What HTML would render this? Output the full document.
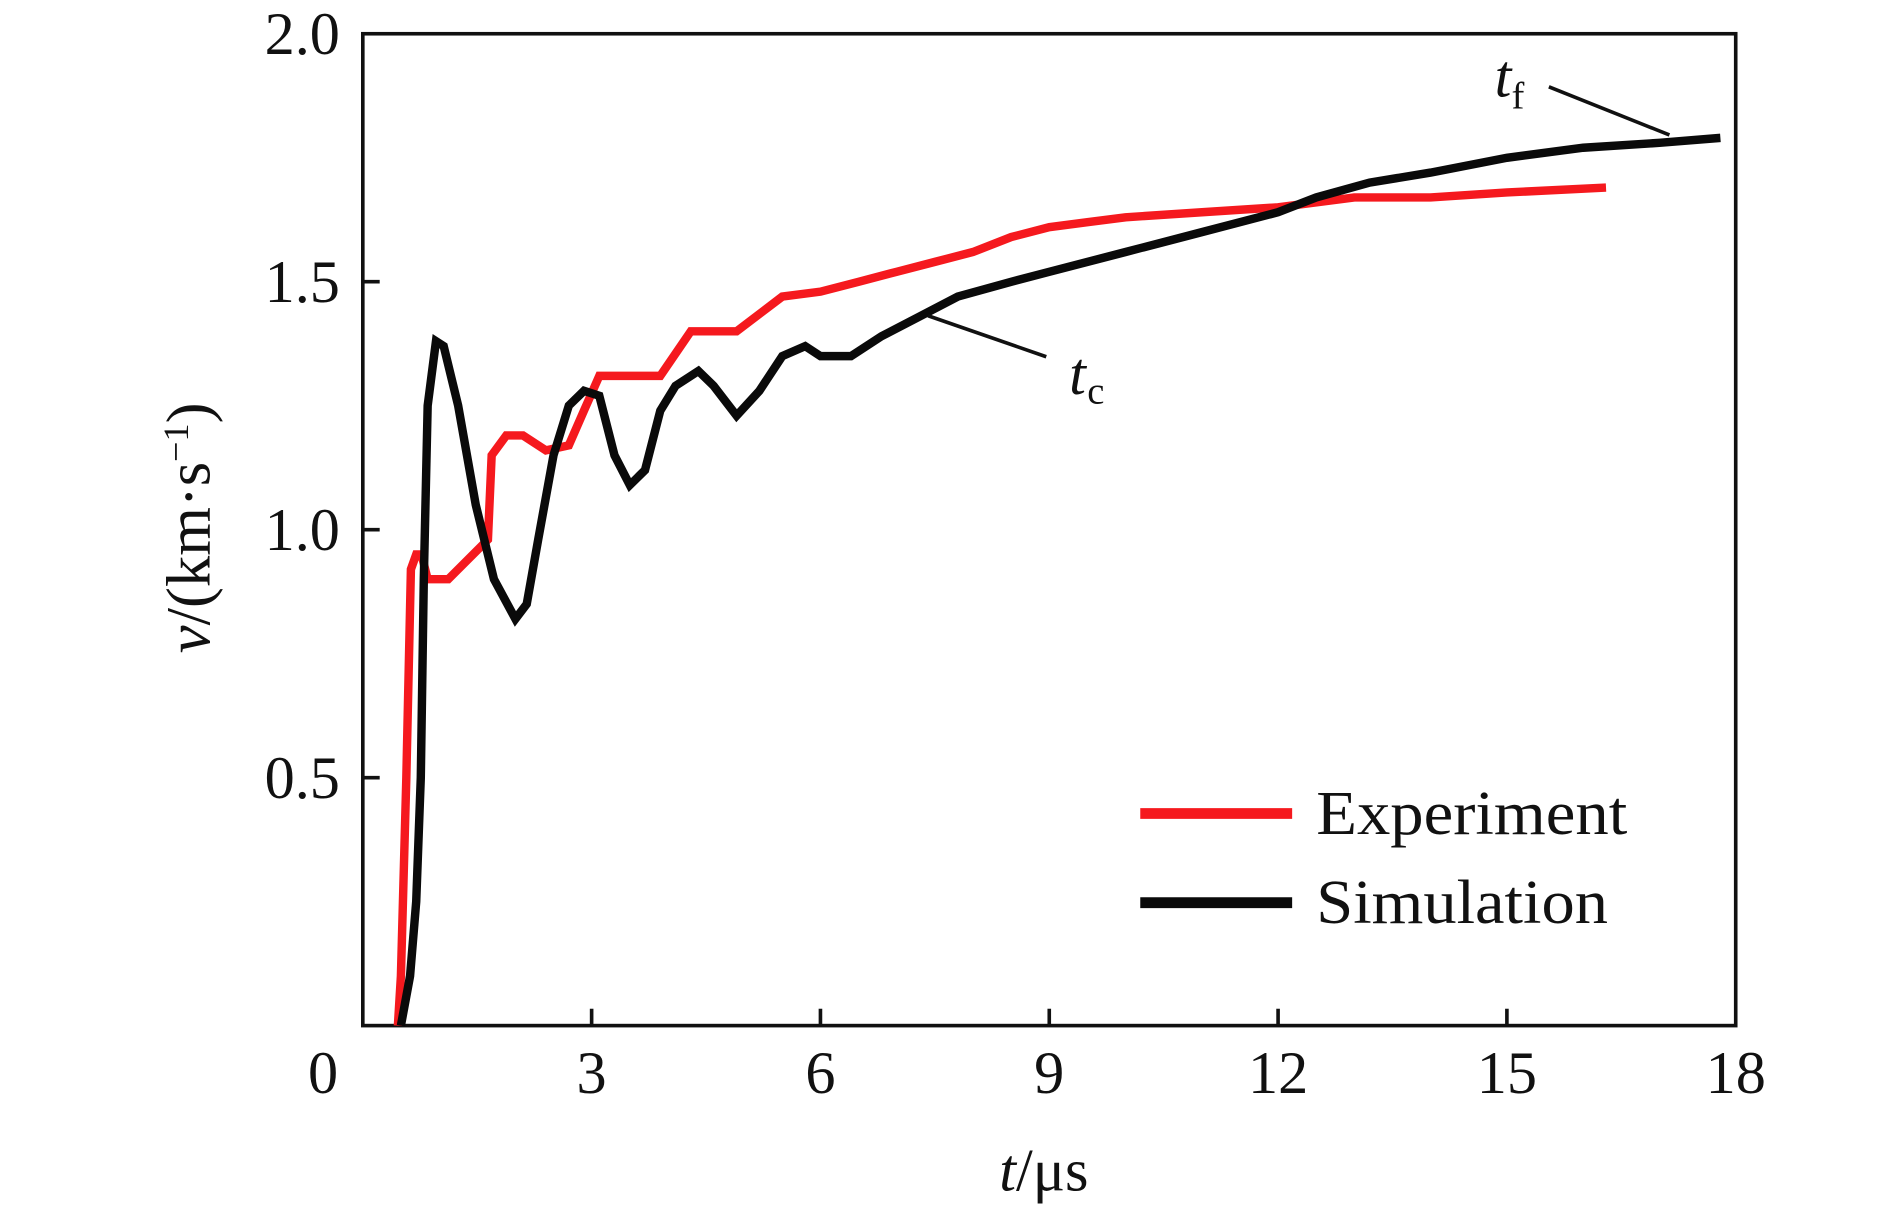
<!DOCTYPE html>
<html><head><meta charset="utf-8"><style>
html,body{margin:0;padding:0;background:#fff;}
svg{display:block;}
text{font-family:"Liberation Serif",serif;fill:#111;}
</style></head>
<body>
<svg id="chart" width="1890" height="1210" viewBox="0 0 1568 1004" preserveAspectRatio="none" xmlns="http://www.w3.org/2000/svg">
<g id="axes"></g>
<g id="series"></g>
<g>
<line x1="770" y1="262" x2="868" y2="296" stroke="#111" stroke-width="3"/>
<text x="887" y="327" font-size="50" font-style="italic">t</text><text x="902" y="335" font-size="32">c</text>
</g>
<g>
<line x1="1285" y1="72" x2="1385" y2="112" stroke="#111" stroke-width="3"/>
<text x="1240" y="80" font-size="50" font-style="italic">t</text><text x="1254" y="90" font-size="32">f</text>
</g>
<g>
<line x1="946" y1="675" x2="1072" y2="675" stroke="#f5191e" stroke-width="9"/>
<text x="1092" y="692" font-size="52" textLength="258" lengthAdjust="spacingAndGlyphs">Experiment</text>
<line x1="946" y1="749" x2="1072" y2="749" stroke="#0a0a0a" stroke-width="9"/>
<text x="1092" y="766" font-size="52" textLength="242" lengthAdjust="spacingAndGlyphs">Simulation</text>
</g>
<text x="866" y="988" font-size="50" text-anchor="middle"><tspan font-style="italic">t</tspan>/μs</text>
<text transform="translate(174,438) rotate(-90)" font-size="52" text-anchor="middle"><tspan font-style="italic">v</tspan>/(km·s<tspan font-size="30" dy="-18">−1</tspan><tspan dy="18">)</tspan></text>
</svg>
<script>
const xTicks = [0,3,6,9,12,15,18];
const yTicks = [0.5,1.0,1.5,2.0];
const yTickLabels = ["0.5","1.0","1.5","2.0"];
const expT = [0.46,0.5,0.57,0.63,0.7,0.77,0.85,1.12,1.64,1.69,1.88,2.1,2.4,2.7,2.9,3.1,3.3,3.9,4.3,4.9,5.5,6.0,6.5,7.0,7.5,8.0,8.5,9.0,9.5,10.0,11,12,13,14,15,16.3];
const expV = [0,0.1,0.5,0.92,0.95,0.95,0.9,0.9,0.98,1.15,1.19,1.19,1.16,1.17,1.24,1.31,1.31,1.31,1.40,1.40,1.47,1.48,1.50,1.52,1.54,1.56,1.59,1.61,1.62,1.63,1.64,1.65,1.67,1.67,1.68,1.69];
const simT = [0.5,0.62,0.7,0.76,0.8,0.85,0.96,1.06,1.25,1.48,1.72,2.0,2.15,2.3,2.5,2.7,2.9,3.1,3.3,3.5,3.7,3.9,4.1,4.4,4.6,4.9,5.2,5.5,5.8,6.0,6.4,6.8,7.3,7.8,8.5,9.0,10,11,12,12.5,13.2,14,15,16,17,17.8];
const simV = [0,0.1,0.25,0.5,0.9,1.25,1.38,1.37,1.25,1.05,0.9,0.82,0.85,0.98,1.15,1.25,1.28,1.27,1.15,1.09,1.12,1.24,1.29,1.32,1.29,1.23,1.28,1.35,1.37,1.35,1.35,1.39,1.43,1.47,1.50,1.52,1.56,1.60,1.64,1.67,1.70,1.72,1.75,1.77,1.78,1.79];

const L=301,R=1440,T=28,B=851;
const xs = t => L + (t/18)*(R-L);
const ys = v => B - (v/2)*(B-T);
const NS="http://www.w3.org/2000/svg";
function mk(tag, attrs, parent){const e=document.createElementNS(NS,tag);for(const k in attrs)e.setAttribute(k,attrs[k]);parent.appendChild(e);return e;}
const axes=document.getElementById('axes');
const frame=mk('rect',{x:L,y:T,width:R-L,height:B-T,fill:'none',stroke:'#111','stroke-width':3},axes);


xTicks.forEach(t=>{
  if(t>0&&t<18){const tk=mk('line',{x1:xs(t),x2:xs(t),y1:B,y2:B-14,stroke:'#111','stroke-width':3},axes);
  
  }
  const lx = t===0 ? xs(t)-33 : xs(t);
  const lb=mk('text',{x:lx,y:B+56,'font-size':50,'text-anchor':'middle'},axes);
  lb.textContent=String(t);
  
  
});
yTicks.forEach((v,i)=>{
  if(v<2){const tk=mk('line',{x1:L,x2:L+14,y1:ys(v),y2:ys(v),stroke:'#111','stroke-width':3},axes);
  
  }
  const lb=mk('text',{x:L-19,y:ys(v)+17,'font-size':50,'text-anchor':'end'},axes);
  lb.textContent=yTickLabels[i];
  
  
});
const series=document.getElementById('series');
function line(ts,vs,color,name){
  const pts=ts.map((t,i)=>xs(t).toFixed(1)+','+ys(vs[i]).toFixed(1)).join(' ');
  const p=mk('polyline',{points:pts,fill:'none',stroke:color,'stroke-width':7,'stroke-linejoin':'miter'},series);
  
  
}
line(expT,expV,'#f5191e','experiment-line');
line(simT,simV,'#0a0a0a','simulation-line');
</script>
</body></html>
